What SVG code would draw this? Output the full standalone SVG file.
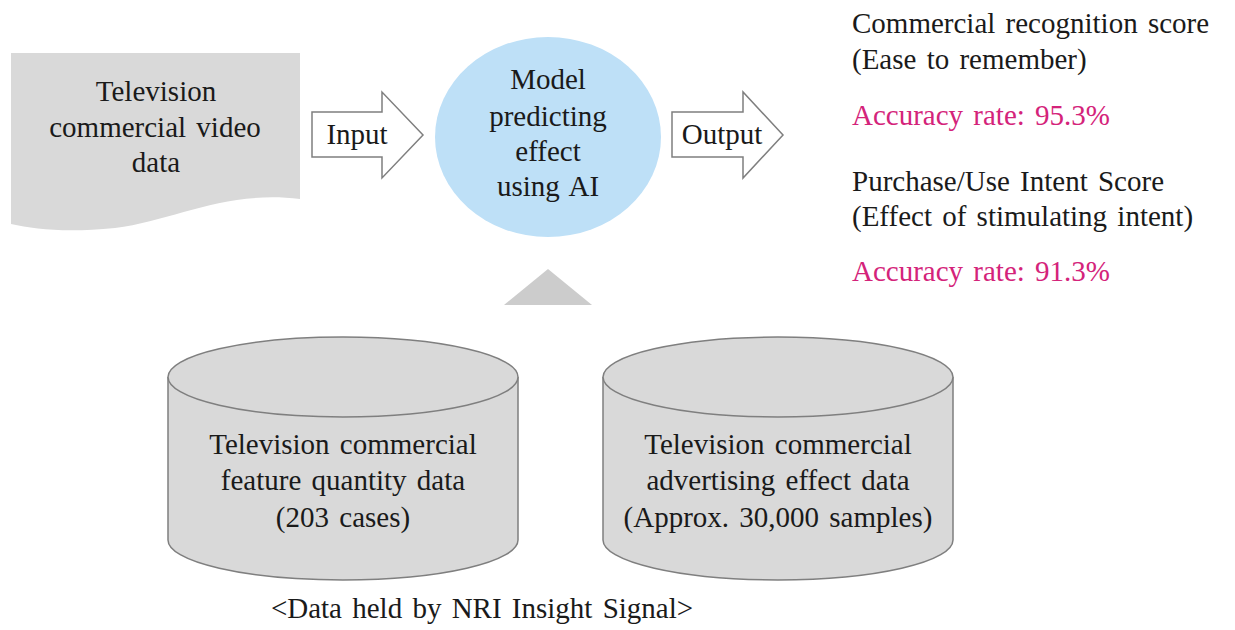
<svg xmlns="http://www.w3.org/2000/svg" width="1235" height="630" viewBox="0 0 1235 630">
  <style>
    text { font-family: "Liberation Serif", "Times New Roman", serif; font-size: 29px; fill: #1a1a1a; word-spacing: 3px; }
    .c { text-anchor: middle; }
    .pink { fill: #d4237a; }
    .doc { fill: #d9d9d9; }
    .cyl { fill: #d9d9d9; stroke: #7f7f7f; stroke-width: 1.5; }
    .blk { fill: #ffffff; stroke: #7f7f7f; stroke-width: 1.5; }
  </style>
  <rect width="1235" height="630" fill="#ffffff"/>

  <!-- source video data (document shape) -->
  <g id="video-data">
    <path class="doc" d="M11,53 H300 V199 C225,190 175,220 115,228 C65,233 35,229 11,224 Z"/>
    <text class="c" x="156" y="101">Television</text>
    <text class="c" x="155" y="137" word-spacing="4">commercial video</text>
    <text class="c" x="156" y="172">data</text>
  </g>

  <!-- prediction model -->
  <g id="model">
    <ellipse cx="548" cy="137" rx="113" ry="100" fill="#bee0f7"/>
    <text class="c" x="548" y="89">Model</text>
    <text class="c" x="548" y="126">predicting</text>
    <text class="c" x="548" y="161">effect</text>
    <text class="c" x="548" y="196">using AI</text>
  </g>

  <!-- block arrows and the upward pointer -->
  <g id="connectors">
    <g id="input-arrow">
      <path class="blk" d="M312,112 H382 V92 L423,135 L382,178 V157 H312 Z"/>
      <text class="c" x="357" y="144">Input</text>
    </g>
    <g id="output-arrow">
      <path class="blk" d="M672,112 H743 V92 L783,135 L743,178 V157 H672 Z"/>
      <text class="c" x="722" y="144">Output</text>
    </g>
    <polygon id="feed-up" points="548,269 592,305 504,305" fill="#cccccc"/>
  </g>

  <!-- results -->
  <g id="results">
    <text x="852" y="33" word-spacing="5">Commercial recognition score</text>
    <text x="852" y="69">(Ease to remember)</text>
    <text class="pink" x="852" y="125">Accuracy rate: 95.3%</text>
    <text x="852" y="191">Purchase/Use Intent Score</text>
    <text x="852" y="226">(Effect of stimulating intent)</text>
    <text class="pink" x="852" y="281">Accuracy rate: 91.3%</text>
  </g>

  <!-- training data stores -->
  <g id="feature-data">
    <path class="cyl" d="M168,377 A175,40 0 0 1 518,377 V540 A175,40 0 0 1 168,540 Z"/>
    <path class="cyl" fill="none" d="M168,377 A175,40 0 0 0 518,377"/>
    <text class="c" x="343" y="454" word-spacing="6">Television commercial</text>
    <text class="c" x="343" y="490">feature quantity data</text>
    <text class="c" x="343" y="527" word-spacing="4">(203 cases)</text>
  </g>

  <g id="effect-data">
    <path class="cyl" d="M603,377 A175,40 0 0 1 953,377 V540 A175,40 0 0 1 603,540 Z"/>
    <path class="cyl" fill="none" d="M603,377 A175,40 0 0 0 953,377"/>
    <text class="c" x="778" y="454" word-spacing="6">Television commercial</text>
    <text class="c" x="778" y="490">advertising effect data</text>
    <text class="c" x="778" y="527" word-spacing="2">(Approx. 30,000 samples)</text>
  </g>

  <text id="caption" class="c" x="482" y="618">&lt;Data held by NRI Insight Signal&gt;</text>
</svg>
